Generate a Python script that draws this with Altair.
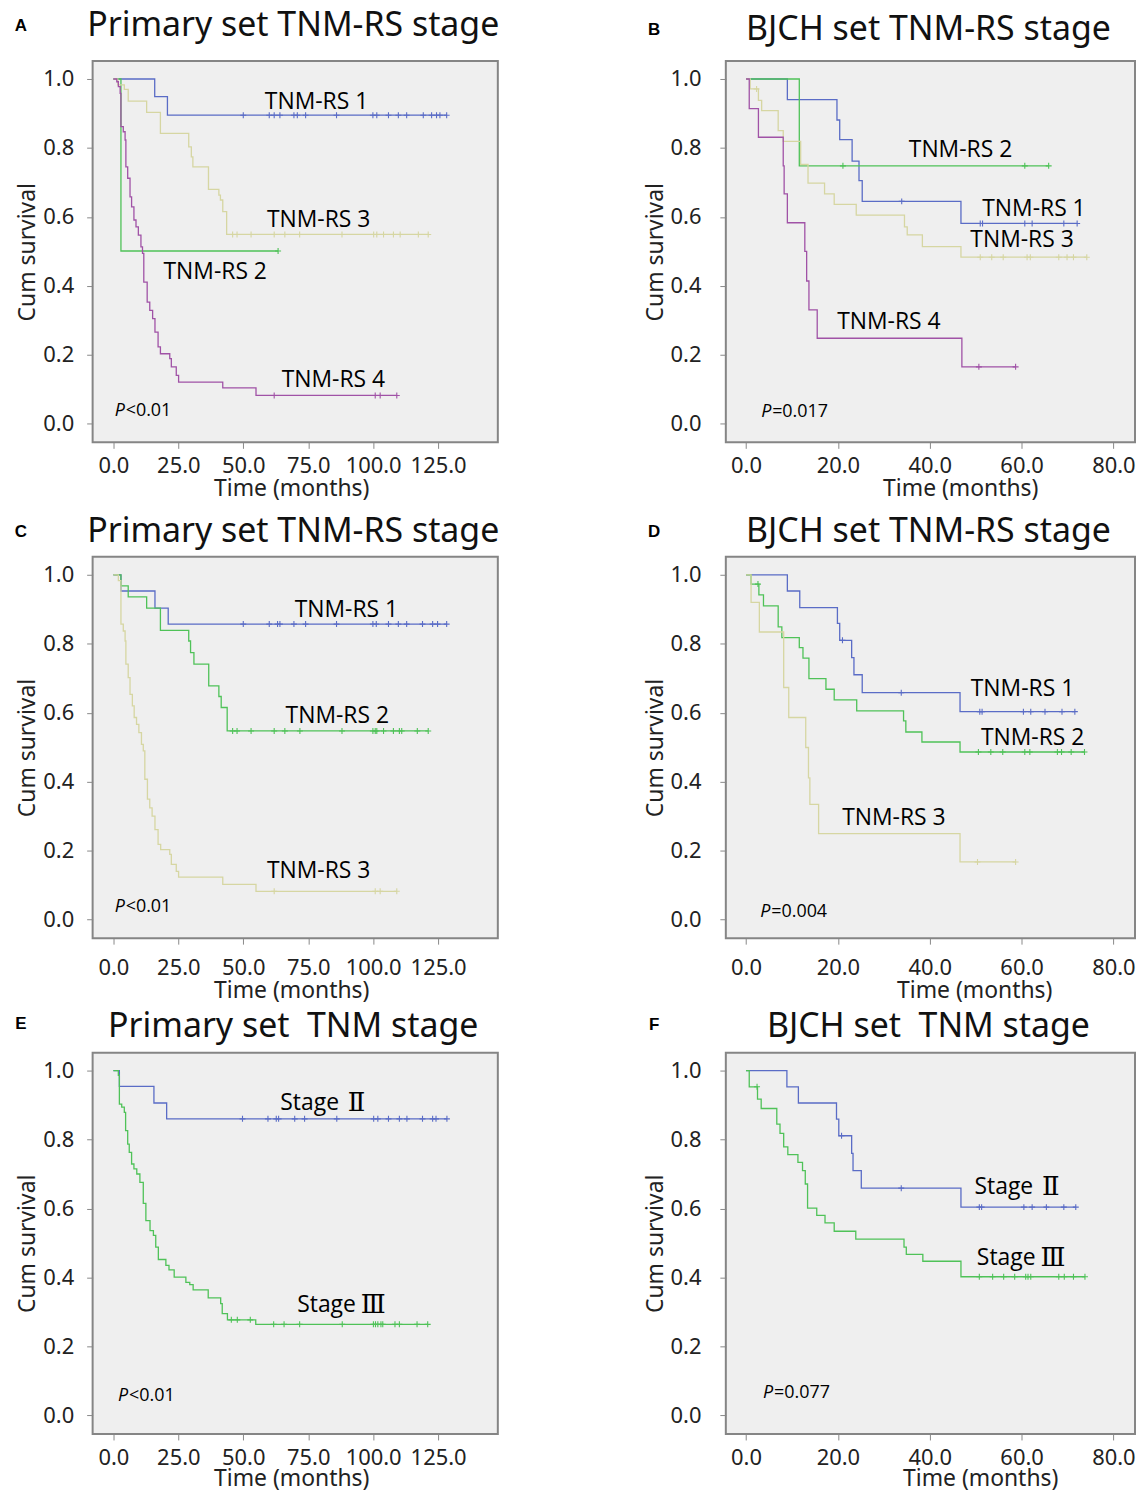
import altair as alt
import pandas as pd

# ---------------- data ----------------
# Panel A : Primary set TNM-RS stage (4 groups)
A1_t = [15.9, 20.8]
A1_s = [0.949, 0.895]
A1_c = [50.0, 60.0, 61.9, 64.1, 69.5, 70.8, 74.0, 85.9, 99.9, 101.4, 105.9, 109.7, 112.9, 119.3, 122.5, 124.4, 125.7, 128.3]
A2_t = [2.9]
A2_s = [0.501]
A2_c = [63.4]
A3_t = [1.7, 4.2, 5.7, 12.8, 18.1, 29.0, 30.0, 30.6, 36.6, 40.6, 41.2, 42.1, 43.6]
A3_s = [0.983, 0.970, 0.936, 0.903, 0.842, 0.803, 0.774, 0.745, 0.680, 0.663, 0.649, 0.615, 0.549]
A3_c = [45.9, 47.6, 53.0, 61.9, 66.0, 71.7, 88.0, 100.2, 101.4, 104.0, 107.8, 110.4, 117.4, 121.2]
A4_t = [1.3, 1.9, 2.6, 2.9, 3.8, 4.5, 4.8, 5.5, 6.4, 7.0, 7.9, 8.7, 9.6, 10.6, 11.2, 11.7, 13.0, 14.0,
        15.1, 16.0, 17.2, 18.1, 21.7, 22.3, 24.2, 25.1, 42.1, 54.9]
A4_s = [0.992, 0.978, 0.958, 0.862, 0.847, 0.823, 0.745, 0.712, 0.658, 0.629, 0.591, 0.571, 0.547, 0.513,
        0.494, 0.411, 0.353, 0.329, 0.305, 0.266, 0.223, 0.203, 0.189, 0.165, 0.140, 0.121, 0.104, 0.082]
A4_c = [61.9, 100.8, 102.7, 109.1]

# Panel B : BJCH set TNM-RS stage (4 groups)
B1_t = [9.0, 19.8, 20.4, 23.1, 24.6, 25.3, 46.8]
B1_s = [0.940, 0.881, 0.824, 0.762, 0.705, 0.645, 0.581]
B1_c = [33.9, 51.0, 51.5, 60.7, 62.3, 69.2, 72.1]
B2_t = [11.6]
B2_s = [0.748]
B2_c = [21.1, 60.7, 65.9]
B3_t = [0.9, 2.7, 3.4, 7.0, 8.1, 11.9, 13.5, 17.1, 19.2, 24.0, 34.5, 35.1, 38.4, 46.8]
B3_s = [0.971, 0.938, 0.908, 0.850, 0.819, 0.752, 0.698, 0.667, 0.636, 0.605, 0.571, 0.548, 0.514, 0.483]
B3_c = [2.3, 51.0, 53.5, 56.0, 61.2, 61.9, 68.1, 69.9, 71.3, 74.2]
B4_t = [0.7, 2.7, 8.1, 8.3, 9.0, 12.8, 13.2, 13.7, 15.5, 47.0]
B4_s = [0.914, 0.831, 0.748, 0.667, 0.583, 0.500, 0.414, 0.330, 0.248, 0.165]
B4_c = [50.7, 58.7]

# Panel C : Primary set TNM-RS stage (3 groups)
C1_t = [2.9, 16.0, 21.1]
C1_s = [0.953, 0.903, 0.857]
C1_c = [50.0, 60.0, 63.2, 64.1, 69.5, 74.0, 85.9, 99.9, 101.2, 105.9, 109.7, 112.9, 119.0, 122.9, 124.8, 128.3]
C2_t = [2.9, 5.7, 12.8, 18.1, 29.0, 29.7, 31.0, 36.7, 40.6, 41.5, 43.8]
C2_s = [0.968, 0.936, 0.903, 0.839, 0.808, 0.774, 0.741, 0.678, 0.647, 0.615, 0.547]
C2_c = [45.9, 47.6, 53.0, 61.9, 66.0, 71.8, 88.0, 99.9, 100.8, 101.4, 104.0, 107.8, 110.1, 111.0, 117.0, 121.2]
C3_t = [1.9, 2.9, 3.8, 4.5, 4.8, 5.7, 6.4, 7.3, 8.0, 8.9, 9.8, 10.8, 11.5, 12.1, 13.1, 14.0, 14.9, 16.0,
        17.2, 18.2, 21.7, 22.3, 24.2, 25.1, 42.1, 54.9]
C3_s = [0.983, 0.857, 0.837, 0.808, 0.741, 0.702, 0.653, 0.620, 0.586, 0.566, 0.542, 0.508, 0.489, 0.407,
        0.349, 0.324, 0.300, 0.261, 0.218, 0.203, 0.189, 0.160, 0.140, 0.123, 0.102, 0.082]
C3_c = [61.9, 100.8, 102.7, 109.1]

# Panel D : BJCH set TNM-RS stage (3 groups)
D1_t = [9.0, 11.7, 19.9, 20.4, 23.0, 23.5, 25.3, 46.6]
D1_s = [0.953, 0.905, 0.859, 0.810, 0.760, 0.710, 0.658, 0.603]
D1_c = [21.0, 33.8, 50.9, 51.4, 60.4, 62.0, 65.1, 68.8, 71.6]
D2_t = [1.1, 2.8, 3.8, 7.0, 7.8, 11.6, 12.4, 13.7, 17.4, 19.2, 24.1, 34.3, 34.8, 38.3, 46.6]
D2_s = [0.973, 0.942, 0.910, 0.849, 0.818, 0.789, 0.758, 0.699, 0.668, 0.637, 0.605, 0.576, 0.544, 0.515, 0.486]
D2_c = [2.6, 50.6, 53.3, 55.9, 60.7, 61.8, 67.8, 68.7, 70.8, 73.7]
D3_t = [1.1, 2.9, 8.2, 9.3, 13.0, 13.6, 13.9, 15.8, 46.6]
D3_s = [0.920, 0.834, 0.673, 0.586, 0.499, 0.411, 0.334, 0.249, 0.167]
D3_c = [50.4, 58.7]

# Panel E : Primary set TNM stage
E1_t = [2.3, 15.6, 20.5]
E1_s = [0.954, 0.906, 0.860]
E1_c = [49.7, 59.5, 62.7, 63.6, 69.8, 73.6, 86.0, 100.2, 101.8, 105.9, 110.1, 113.0, 119.0, 122.9, 124.2, 128.4]
E2_t = [1.9, 2.3, 3.2, 4.2, 4.7, 5.5, 6.1, 7.0, 7.9, 9.0, 10.2, 11.5, 12.5, 14.1, 15.4, 16.3, 17.3, 20.2,
        21.4, 23.4, 27.9, 29.4, 30.7, 36.5, 41.3, 41.9, 43.9, 54.8]
E2_s = [0.986, 0.903, 0.894, 0.879, 0.826, 0.787, 0.763, 0.729, 0.715, 0.700, 0.676, 0.615, 0.565, 0.536,
        0.522, 0.488, 0.452, 0.435, 0.422, 0.401, 0.386, 0.379, 0.364, 0.341, 0.324, 0.295, 0.277, 0.264]
E2_c = [45.4, 47.7, 52.7, 61.7, 65.7, 71.7, 88.1, 100.1, 100.9, 101.8, 103.0, 103.7, 108.4, 110.1, 116.9, 121.0]

# Panel F : BJCH set TNM stage
F1_t = [8.9, 11.4, 19.7, 20.2, 23.0, 23.3, 25.1, 46.8]
F1_s = [0.953, 0.906, 0.859, 0.811, 0.760, 0.710, 0.659, 0.604]
F1_c = [20.8, 33.8, 50.8, 51.3, 60.5, 62.3, 65.4, 69.2, 71.8]
F2_t = [0.7, 2.5, 3.3, 6.7, 7.4, 8.2, 9.1, 11.3, 12.3, 12.9, 13.4, 15.4, 17.2, 19.2, 23.9, 34.4, 34.9, 38.5, 46.8]
F2_s = [0.953, 0.917, 0.890, 0.845, 0.818, 0.779, 0.756, 0.734, 0.710, 0.671, 0.601, 0.580, 0.558, 0.534,
        0.511, 0.488, 0.467, 0.447, 0.402]
F2_c = [2.4, 50.8, 53.7, 56.1, 58.5, 60.9, 61.4, 62.0, 68.1, 69.3, 71.3, 73.8]

# curve labels (text, time, survival) and p-values
A_lab = ["TNM-RS 1", "TNM-RS 3", "TNM-RS 2", "TNM-RS 4"]
A_lab_t = [78.2, 79.0, 39.2, 84.7]
A_lab_s = [0.932, 0.592, 0.441, 0.128]
B_lab = ["TNM-RS 2", "TNM-RS 1", "TNM-RS 3", "TNM-RS 4"]
B_lab_t = [46.7, 62.7, 60.1, 31.1]
B_lab_s = [0.795, 0.624, 0.532, 0.295]
C_lab = ["TNM-RS 1", "TNM-RS 2", "TNM-RS 3"]
C_lab_t = [89.7, 86.2, 79.0]
C_lab_s = [0.898, 0.590, 0.140]
D_lab = ["TNM-RS 1", "TNM-RS 2", "TNM-RS 3"]
D_lab_t = [60.2, 62.4, 32.2]
D_lab_s = [0.669, 0.527, 0.294]
E_lab = ["Stage Ⅱ", "Stage Ⅲ"]
E_lab_t = [81.3, 87.8]
E_lab_s = [0.905, 0.320]
F_lab = ["Stage Ⅱ", "Stage Ⅲ"]
F_lab_t = [59.4, 59.9]
F_lab_s = [0.662, 0.457]

P_text = ["<0.01", "=0.017", "<0.01", "=0.004", "<0.01", "=0.077"]
P_t = [0.5, 3.3, 0.5, 3.1, 1.8, 3.7]
P_s = [0.038, 0.035, 0.036, 0.021, 0.056, 0.066]

titles = ["Primary set TNM-RS stage", "BJCH set TNM-RS stage", "Primary set TNM-RS stage",
          "BJCH set TNM-RS stage", "Primary set\u00a0 TNM stage", "BJCH set\u00a0 TNM stage"]
letters = ["A", "B", "C", "D", "E", "F"]

left_ticks = [0, 25, 50, 75, 100, 125]
right_ticks = [0, 20, 40, 60, 80]
y_ticks = [0.0, 0.2, 0.4, 0.6, 0.8, 1.0]

group_keys = ["blue", "green", "yellow", "purple"]
group_colors = ["#5a6cc6", "#4fc258", "#d6d6a2", "#a052a6"]

ROMAN = "ⅡⅢ"


# ---------------- helpers ----------------
def surv_at(t, ts, ss):
    v = 1.0
    for ti, si in zip(ts, ss):
        if ti <= t:
            v = si
    return v


def panel(series, xdom, xticks, ydom, width, height, title, letter, lab, lab_t, lab_s,
          ptxt, pt, ps, title_dy, letter_dy, ylab_pad, ytitle_pad, xtitle_dx, xlab_pad, xtitle_pad):
    rows, cens = [], []
    for name, key, ts, ss, cs in series:
        end = max(cs + ts)
        pts = [(0.0, 1.0)] + list(zip(ts, ss)) + [(end, ss[-1])]
        for i, (t, s) in enumerate(pts):
            rows.append({"name": name, "g": key, "t": t, "s": s, "i": i})
        for c in cs:
            cens.append({"name": name, "g": key, "t": c, "s": surv_at(c, ts, ss)})
    df = pd.DataFrame(rows)
    dc = pd.DataFrame(cens)

    xs = alt.X("t:Q", scale=alt.Scale(domain=xdom, nice=False, zero=False),
               axis=alt.Axis(values=xticks, format=".1f", title="Time (months)", labelPadding=xlab_pad,
                             titlePadding=xtitle_pad, titleX=width / 2 + xtitle_dx, titleAlign="center"))
    ys = alt.Y("s:Q", scale=alt.Scale(domain=ydom, nice=False, zero=False),
               axis=alt.Axis(values=y_ticks, format=".1f", title="Cum survival", labelPadding=ylab_pad,
                             titlePadding=ytitle_pad))
    col = alt.Color("g:N", scale=alt.Scale(domain=group_keys, range=group_colors), legend=None)

    lines = alt.Chart(df).mark_line(interpolate="step-after", strokeWidth=1.3).encode(
        x=xs, y=ys, color=col, detail="name:N", order="i:Q")
    marks = alt.Chart(dc).mark_point(shape="M-1,0L1,0M0,-1L0,1", size=36, strokeWidth=1.1,
                                     filled=False, opacity=1).encode(x="t:Q", y="s:Q", color=col)

    plain = [(l, t, s) for l, t, s in zip(lab, lab_t, lab_s) if l[-1] not in ROMAN]
    roman = [(l[:-1].rstrip(), l[-1], t, s) for l, t, s in zip(lab, lab_t, lab_s) if l[-1] in ROMAN]
    layers = [lines, marks]
    if plain:
        ldf = pd.DataFrame(plain, columns=["lab", "t", "s"])
        layers.append(alt.Chart(ldf).mark_text(font="Open Sans", fontSize=23, color="#000",
                                               baseline="middle", align="center").encode(
            x="t:Q", y="s:Q", text="lab:N"))
    if roman:
        rdf = pd.DataFrame(roman, columns=["lab", "num", "t", "s"])
        layers.append(alt.Chart(rdf).mark_text(font="Open Sans", fontSize=23, color="#000", dx=-15,
                                               baseline="middle", align="center").encode(
            x="t:Q", y="s:Q", text="lab:N"))
        layers.append(alt.Chart(rdf).mark_text(font="DejaVu Serif", fontSize=26, color="#000", dx=32,
                                               baseline="middle", align="center").encode(
            x="t:Q", y="s:Q", text="num:N"))

    pdf = pd.DataFrame({"p": ["P"], "rest": [ptxt], "t": [pt], "s": [ps]})
    layers.append(alt.Chart(pdf).mark_text(font="Open Sans", fontSize=18, fontStyle="italic", align="left",
                                           baseline="middle", color="#000").encode(
        x="t:Q", y="s:Q", text="p:N"))
    layers.append(alt.Chart(pdf).mark_text(font="Open Sans", fontSize=18, align="left", dx=11,
                                           baseline="middle", color="#000").encode(
        x="t:Q", y="s:Q", text="rest:N"))
    hdr = pd.DataFrame({"l": [letter], "ttl": [title]})
    layers.append(alt.Chart(hdr).mark_text(
        font="Liberation Sans", fontSize=17, fontWeight="bold", color="#000",
        align="center", baseline="middle").encode(x=alt.value(-72), y=alt.value(letter_dy), text="l:N"))
    layers.append(alt.Chart(hdr).mark_text(
        font="Noto Sans", fontSize=34, color="#111",
        align="center", baseline="middle").encode(x=alt.value(width / 2 - 2), y=alt.value(title_dy),
                                                   text="ttl:N"))
    return alt.layer(*layers).properties(width=width, height=height)


LX = [-8.0, 148.0]
RX = [-4.4, 84.7]
YD = [-0.054, 1.052]
W_L, W_R, H = 407, 411, 383

pA = panel([("A1", "blue", A1_t, A1_s, A1_c), ("A2", "green", A2_t, A2_s, A2_c),
            ("A3", "yellow", A3_t, A3_s, A3_c), ("A4", "purple", A4_t, A4_s, A4_c)],
           LX, left_ticks, YD, W_L, H, titles[0], letters[0], A_lab, A_lab_t, A_lab_s,
           P_text[0], P_t[0], P_s[0], -35, -35, 13, 3, -4, 7, 1)
pB = panel([("B1", "blue", B1_t, B1_s, B1_c), ("B2", "green", B2_t, B2_s, B2_c),
            ("B3", "yellow", B3_t, B3_s, B3_c), ("B4", "purple", B4_t, B4_s, B4_c)],
           RX, right_ticks, YD, W_R, H, titles[1], letters[1], B_lab, B_lab_t, B_lab_s,
           P_text[1], P_t[1], P_s[1], -31, -31, 19, 3, 30, 7, 1)
pC = panel([("C1", "blue", C1_t, C1_s, C1_c), ("C2", "green", C2_t, C2_s, C2_c),
            ("C3", "yellow", C3_t, C3_s, C3_c)],
           LX, left_ticks, YD, W_L, H, titles[2], letters[2], C_lab, C_lab_t, C_lab_s,
           P_text[2], P_t[2], P_s[2], -25, -25, 13, 3, -4, 13, 2)
pD = panel([("D1", "blue", D1_t, D1_s, D1_c), ("D2", "green", D2_t, D2_s, D2_c),
            ("D3", "yellow", D3_t, D3_s, D3_c)],
           RX, right_ticks, YD, W_R, H, titles[3], letters[3], D_lab, D_lab_t, D_lab_s,
           P_text[3], P_t[3], P_s[3], -25, -25, 19, 3, 44, 13, 2)
pE = panel([("E1", "blue", E1_t, E1_s, E1_c), ("E2", "green", E2_t, E2_s, E2_c)],
           LX, left_ticks, YD, W_L, H, titles[4], letters[4], E_lab, E_lab_t, E_lab_s,
           P_text[4], P_t[4], P_s[4], -26, -29, 13, 3, -4, 8, -1)
pF = panel([("F1", "blue", F1_t, F1_s, F1_c), ("F2", "green", F2_t, F2_s, F2_c)],
           RX, right_ticks, YD, W_R, H, titles[5], letters[5], F_lab, F_lab_t, F_lab_s,
           P_text[5], P_t[5], P_s[5], -26, -28, 19, 3, 50, 8, -1)

chart = alt.concat(pA, pB, pC, pD, pE, pF, columns=2, spacing={"row": 115, "column": 229},
                   bounds="flush").configure_view(
    fill="#efefef", stroke="#858585", strokeWidth=2
).configure_axis(
    labelFont="Noto Sans", labelFontSize=22, labelColor="#222",
    titleFont="Noto Sans", titleFontSize=23, titleFontWeight="normal", titleColor="#222",
    tickColor="#888", tickSize=6, domain=False, grid=False
).properties(padding={"left": 5, "top": -3, "right": 0, "bottom": -3})

chart.save("out.html", embed_options={"renderer": "svg", "actions": False})
